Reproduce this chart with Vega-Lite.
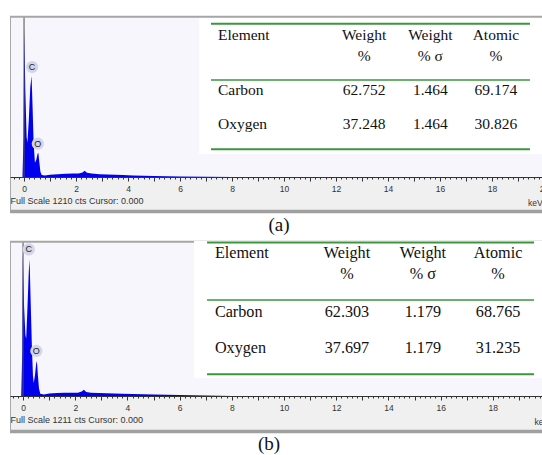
{
  "$schema": "https://vega.github.io/schema/vega-lite/v6.json",
  "padding": {"left": 8, "top": 15, "right": 0, "bottom": 0},
  "spacing": 4,
  "background": "white",
  "config": {
    "view": {"stroke": null, "fill": "#f6f6fc"},
    "axisY": {"disable": true}
  },
  "datasets": {
    "specA": [
      {"keV": -0.06, "cts": 0}, {"keV": -0.02, "cts": 300}, {"keV": 0.01, "cts": 1129}, {"keV": 0.05, "cts": 650},
      {"keV": 0.10, "cts": 300}, {"keV": 0.13, "cts": 260}, {"keV": 0.18, "cts": 420}, {"keV": 0.24, "cts": 680},
      {"keV": 0.29, "cts": 764}, {"keV": 0.33, "cts": 520}, {"keV": 0.37, "cts": 250}, {"keV": 0.42, "cts": 108},
      {"keV": 0.47, "cts": 130}, {"keV": 0.52, "cts": 175}, {"keV": 0.55, "cts": 184}, {"keV": 0.59, "cts": 110},
      {"keV": 0.63, "cts": 40}, {"keV": 0.68, "cts": 15}, {"keV": 0.8, "cts": 12}, {"keV": 1.0, "cts": 18},
      {"keV": 1.3, "cts": 22}, {"keV": 1.6, "cts": 24}, {"keV": 1.9, "cts": 26}, {"keV": 2.1, "cts": 27},
      {"keV": 2.25, "cts": 35}, {"keV": 2.33, "cts": 48}, {"keV": 2.42, "cts": 32}, {"keV": 2.6, "cts": 26},
      {"keV": 2.9, "cts": 22}, {"keV": 3.2, "cts": 20}, {"keV": 3.5, "cts": 18}, {"keV": 3.8, "cts": 15},
      {"keV": 4.2, "cts": 12}, {"keV": 4.6, "cts": 10}, {"keV": 5.0, "cts": 8}, {"keV": 5.5, "cts": 6},
      {"keV": 6.0, "cts": 4}, {"keV": 7.0, "cts": 2}, {"keV": 8.0, "cts": 0}, {"keV": 20.0, "cts": 0}
    ],
    "specB": [
      {"keV": -0.07, "cts": 0}, {"keV": -0.03, "cts": 350}, {"keV": -0.01, "cts": 1127}, {"keV": 0.04, "cts": 700},
      {"keV": 0.09, "cts": 480}, {"keV": 0.12, "cts": 450}, {"keV": 0.17, "cts": 700}, {"keV": 0.22, "cts": 980},
      {"keV": 0.25, "cts": 1075}, {"keV": 0.29, "cts": 760}, {"keV": 0.34, "cts": 380}, {"keV": 0.38, "cts": 160},
      {"keV": 0.41, "cts": 100}, {"keV": 0.46, "cts": 170}, {"keV": 0.50, "cts": 250}, {"keV": 0.53, "cts": 275},
      {"keV": 0.57, "cts": 160}, {"keV": 0.61, "cts": 60}, {"keV": 0.66, "cts": 18}, {"keV": 0.8, "cts": 12},
      {"keV": 1.0, "cts": 20}, {"keV": 1.3, "cts": 24}, {"keV": 1.6, "cts": 26}, {"keV": 1.9, "cts": 25},
      {"keV": 2.1, "cts": 26}, {"keV": 2.25, "cts": 35}, {"keV": 2.33, "cts": 50}, {"keV": 2.42, "cts": 32},
      {"keV": 2.6, "cts": 26}, {"keV": 2.9, "cts": 24}, {"keV": 3.2, "cts": 22}, {"keV": 3.5, "cts": 20},
      {"keV": 3.8, "cts": 18}, {"keV": 4.2, "cts": 15}, {"keV": 4.6, "cts": 14}, {"keV": 5.0, "cts": 12},
      {"keV": 5.5, "cts": 10}, {"keV": 6.0, "cts": 8}, {"keV": 6.5, "cts": 5}, {"keV": 7.0, "cts": 3},
      {"keV": 8.0, "cts": 0}, {"keV": 19.96, "cts": 0}
    ],
    "tableA": [
      {"Element": "Carbon", "weight": 62.752, "sigma": 1.464, "atomic": 69.174},
      {"Element": "Oxygen", "weight": 37.248, "sigma": 1.464, "atomic": 30.826}
    ],
    "tableB": [
      {"Element": "Carbon", "weight": 62.303, "sigma": 1.179, "atomic": 68.765},
      {"Element": "Oxygen", "weight": 37.697, "sigma": 1.179, "atomic": 31.235}
    ],
    "peaksA": [
      {"el": "C", "keV": 0.31, "cts": 832},
      {"el": "O", "keV": 0.53, "cts": 252}
    ],
    "peaksB": [
      {"el": "C", "keV": 0.22, "cts": 1153},
      {"el": "O", "keV": 0.51, "cts": 354}
    ]
  },
  "vconcat": [
    {
      "width": 534,
      "height": 197,
      "title": {"text": "(a)", "orient": "bottom", "anchor": "middle", "font": "Liberation Serif", "fontSize": 19, "fontWeight": "normal", "color": "#111", "offset": 3, "dx": 2},
      "layer": [
        {"data": {"values": [{}]}, "mark": {"type": "rect", "color": "#f0f0f0"},
         "encoding": {"x": {"datum": -0.54}, "x2": {"datum": 20.0}, "y": {"datum": -272}, "y2": {"datum": 0}}},
        {"data": {"values": [{}]}, "mark": {"type": "rect", "color": "#ffffff"},
         "encoding": {"x": {"datum": 6.73}, "x2": {"datum": 20.0}, "y": {"datum": 174}, "y2": {"datum": 1205}}},
        {"data": {"name": "specA"},
         "mark": {"type": "area", "color": "#0000ee", "interpolate": "linear"},
         "encoding": {
           "x": {"field": "keV", "type": "quantitative",
             "scale": {"domain": [-0.54, 20.0], "nice": false, "zero": false},
             "axis": {
               "values": [-0.4,-0.2,0,0.2,0.4,0.6,0.8,1,1.2,1.4,1.6,1.8,2,2.2,2.4,2.6,2.8,3,3.2,3.4,3.6,3.8,4,4.2,4.4,4.6,4.8,5,5.2,5.4,5.6,5.8,6,6.2,6.4,6.6,6.8,7,7.2,7.4,7.6,7.8,8,8.2,8.4,8.6,8.8,9,9.2,9.4,9.6,9.8,10,10.2,10.4,10.6,10.8,11,11.2,11.4,11.6,11.8,12,12.2,12.4,12.6,12.8,13,13.2,13.4,13.6,13.8,14,14.2,14.4,14.6,14.8,15,15.2,15.4,15.6,15.8,16,16.2,16.4,16.6,16.8,17,17.2,17.4,17.6,17.8,18,18.2,18.4,18.6,18.8,19,19.2,19.4,19.6,19.8,20],
               "tickCount": 300,
               "labelExpr": "datum.value % 2 === 0 ? '' + datum.value : ''",
               "labelOverlap": false, "labelBound": false, "labelFlush": false,
               "labelFont": "Liberation Sans", "labelFontSize": 8.5, "labelColor": "#333", "labelPadding": 3,
               "tickColor": "#333",
               "tickSize": {"condition": {"test": "datum.value % 1 === 0", "value": 4}, "value": 2},
               "domainColor": "#333", "grid": false, "offset": -36,
               "title": "Full Scale 1210 cts Cursor: 0.000", "titleAnchor": "start", "titleAlign": "left",
               "titleFont": "Liberation Sans", "titleFontSize": 9, "titleFontWeight": "normal", "titleColor": "#333", "titlePadding": 4,
               "zindex": 2
             }},
           "y": {"field": "cts", "type": "quantitative", "scale": {"domain": [-272, 1218], "nice": false, "zero": false}, "axis": null}
         }},
        {"data": {"values": [{}]}, "mark": {"type": "rule", "color": "#505050", "strokeWidth": 1},
         "encoding": {"x": {"datum": 0}, "y": {"datum": 0}, "y2": {"datum": 1210}}},
        {"data": {"values": [{}]}, "mark": {"type": "rule", "color": "#3c963c", "strokeWidth": 2},
         "encoding": {"x": {"datum": 7.19}, "x2": {"datum": 19.46}, "y": {"datum": 1160}}},
        {"data": {"values": [{}]}, "mark": {"type": "rule", "color": "#3c963c", "strokeWidth": 1.5},
         "encoding": {"x": {"datum": 7.19}, "x2": {"datum": 19.46}, "y": {"datum": 734}}},
        {"data": {"values": [{}]}, "mark": {"type": "rule", "color": "#3c963c", "strokeWidth": 2},
         "encoding": {"x": {"datum": 7.19}, "x2": {"datum": 19.46}, "y": {"datum": 210}}},
        {"data": {"values": [{}]}, "mark": {"type": "rule", "color": "#a6a6a6", "strokeWidth": 2},
         "encoding": {"x": {"datum": -0.54}, "x2": {"datum": 20.0}, "y": {"datum": 1212}}},
        {"data": {"values": [{}]}, "mark": {"type": "rule", "color": "#a0a0a0", "strokeWidth": 3.5},
         "encoding": {"x": {"datum": -0.54}, "x2": {"datum": 20.0}, "y": {"datum": -261}}},
        {"data": {"values": [{}]}, "mark": {"type": "rule", "color": "#a8a8a8", "strokeWidth": 1},
         "encoding": {"x": {"datum": -0.52}, "y": {"datum": -261}, "y2": {"datum": 1212}}},
        {"data": {"name": "peaksA"}, "mark": {"type": "point", "filled": true, "color": "#d4d4ea", "size": 150, "opacity": 1},
         "encoding": {"x": {"field": "keV", "type": "quantitative"}, "y": {"field": "cts", "type": "quantitative"}}},
        {"data": {"name": "peaksA"}, "mark": {"type": "text", "font": "Liberation Sans", "fontSize": 9, "color": "#222", "baseline": "middle", "align": "center"},
         "encoding": {"x": {"field": "keV", "type": "quantitative"}, "y": {"field": "cts", "type": "quantitative"}, "text": {"field": "el"}}},
        {"data": {"values": [{}]}, "mark": {"type": "text", "font": "Liberation Sans", "fontSize": 8.5, "color": "#333", "baseline": "middle", "align": "right"},
         "encoding": {"x": {"datum": 19.95}, "y": {"datum": -197}, "text": {"value": "keV"}}},
        {"data": {"values": [{}]}, "mark": {"type": "text", "align": "left", "baseline": "alphabetic", "font": "Liberation Serif", "fontSize": 15.5, "color": "#111"},
         "encoding": {"x": {"datum": 7.46}, "y": {"datum": 1036}, "text": {"value": "Element"}}},
        {"data": {"values": [{}]}, "mark": {"type": "text", "align": "center", "baseline": "alphabetic", "font": "Liberation Serif", "fontSize": 15.5, "lineHeight": 21, "color": "#111"},
         "encoding": {"x": {"datum": 13.08}, "y": {"datum": 1036}, "text": {"value": ["Weight", "%"]}}},
        {"data": {"values": [{}]}, "mark": {"type": "text", "align": "center", "baseline": "alphabetic", "font": "Liberation Serif", "fontSize": 15.5, "lineHeight": 21, "color": "#111"},
         "encoding": {"x": {"datum": 15.63}, "y": {"datum": 1036}, "text": {"value": ["Weight", "% σ"]}}},
        {"data": {"values": [{}]}, "mark": {"type": "text", "align": "center", "baseline": "alphabetic", "font": "Liberation Serif", "fontSize": 15.5, "lineHeight": 21, "color": "#111"},
         "encoding": {"x": {"datum": 18.15}, "y": {"datum": 1036}, "text": {"value": ["Atomic", "%"]}}},
        {"data": {"name": "tableA"}, "transform": [{"filter": "datum.Element === 'Carbon'"}],
         "mark": {"type": "text", "align": "left", "baseline": "alphabetic", "font": "Liberation Serif", "fontSize": 15.5, "color": "#111"},
         "encoding": {"x": {"datum": 7.46}, "y": {"datum": 620}, "text": {"field": "Element"}}},
        {"data": {"name": "tableA"}, "transform": [{"filter": "datum.Element === 'Carbon'"}],
         "mark": {"type": "text", "align": "center", "baseline": "alphabetic", "font": "Liberation Serif", "fontSize": 15.5, "color": "#111"},
         "encoding": {"x": {"datum": 13.08}, "y": {"datum": 620}, "text": {"field": "weight", "format": ".3f"}}},
        {"data": {"name": "tableA"}, "transform": [{"filter": "datum.Element === 'Carbon'"}],
         "mark": {"type": "text", "align": "center", "baseline": "alphabetic", "font": "Liberation Serif", "fontSize": 15.5, "color": "#111"},
         "encoding": {"x": {"datum": 15.63}, "y": {"datum": 620}, "text": {"field": "sigma", "format": ".3f"}}},
        {"data": {"name": "tableA"}, "transform": [{"filter": "datum.Element === 'Carbon'"}],
         "mark": {"type": "text", "align": "center", "baseline": "alphabetic", "font": "Liberation Serif", "fontSize": 15.5, "color": "#111"},
         "encoding": {"x": {"datum": 18.15}, "y": {"datum": 620}, "text": {"field": "atomic", "format": ".3f"}}},
        {"data": {"name": "tableA"}, "transform": [{"filter": "datum.Element === 'Oxygen'"}],
         "mark": {"type": "text", "align": "left", "baseline": "alphabetic", "font": "Liberation Serif", "fontSize": 15.5, "color": "#111"},
         "encoding": {"x": {"datum": 7.46}, "y": {"datum": 363}, "text": {"field": "Element"}}},
        {"data": {"name": "tableA"}, "transform": [{"filter": "datum.Element === 'Oxygen'"}],
         "mark": {"type": "text", "align": "center", "baseline": "alphabetic", "font": "Liberation Serif", "fontSize": 15.5, "color": "#111"},
         "encoding": {"x": {"datum": 13.08}, "y": {"datum": 363}, "text": {"field": "weight", "format": ".3f"}}},
        {"data": {"name": "tableA"}, "transform": [{"filter": "datum.Element === 'Oxygen'"}],
         "mark": {"type": "text", "align": "center", "baseline": "alphabetic", "font": "Liberation Serif", "fontSize": 15.5, "color": "#111"},
         "encoding": {"x": {"datum": 15.63}, "y": {"datum": 363}, "text": {"field": "sigma", "format": ".3f"}}},
        {"data": {"name": "tableA"}, "transform": [{"filter": "datum.Element === 'Oxygen'"}],
         "mark": {"type": "text", "align": "center", "baseline": "alphabetic", "font": "Liberation Serif", "fontSize": 15.5, "color": "#111"},
         "encoding": {"x": {"datum": 18.15}, "y": {"datum": 363}, "text": {"field": "atomic", "format": ".3f"}}}
      ]
    },
    {
      "width": 534,
      "height": 192,
      "title": {"text": "(b)", "orient": "bottom", "anchor": "middle", "font": "Liberation Serif", "fontSize": 19, "fontWeight": "normal", "color": "#111", "offset": 2, "dx": -8},
      "layer": [
        {"data": {"values": [{}]}, "mark": {"type": "rect", "color": "#f0f0f0"},
         "encoding": {"x": {"datum": -0.5}, "x2": {"datum": 19.96}, "y": {"datum": -291}, "y2": {"datum": 0}}},
        {"data": {"name": "specB"},
         "mark": {"type": "area", "color": "#0000ee", "interpolate": "linear"},
         "encoding": {
           "x": {"field": "keV", "type": "quantitative",
             "scale": {"domain": [-0.5, 19.96], "nice": false, "zero": false},
             "axis": {
               "values": [-0.4,-0.2,0,0.2,0.4,0.6,0.8,1,1.2,1.4,1.6,1.8,2,2.2,2.4,2.6,2.8,3,3.2,3.4,3.6,3.8,4,4.2,4.4,4.6,4.8,5,5.2,5.4,5.6,5.8,6,6.2,6.4,6.6,6.8,7,7.2,7.4,7.6,7.8,8,8.2,8.4,8.6,8.8,9,9.2,9.4,9.6,9.8,10,10.2,10.4,10.6,10.8,11,11.2,11.4,11.6,11.8,12,12.2,12.4,12.6,12.8,13,13.2,13.4,13.6,13.8,14,14.2,14.4,14.6,14.8,15,15.2,15.4,15.6,15.8,16,16.2,16.4,16.6,16.8,17,17.2,17.4,17.6,17.8,18,18.2,18.4,18.6,18.8,19,19.2,19.4,19.6,19.8],
               "tickCount": 300,
               "labelExpr": "datum.value % 2 === 0 ? '' + datum.value : ''",
               "labelOverlap": false, "labelBound": false, "labelFlush": false,
               "labelFont": "Liberation Sans", "labelFontSize": 8.5, "labelColor": "#333", "labelPadding": 3,
               "tickColor": "#333",
               "tickSize": {"condition": {"test": "datum.value % 1 === 0", "value": 4}, "value": 2},
               "domainColor": "#333", "grid": false, "offset": -37,
               "title": "Full Scale 1211 cts Cursor: 0.000", "titleAnchor": "start", "titleAlign": "left",
               "titleFont": "Liberation Sans", "titleFontSize": 9, "titleFontWeight": "normal", "titleColor": "#333", "titlePadding": 4,
               "zindex": 2
             }},
           "y": {"field": "cts", "type": "quantitative", "scale": {"domain": [-291, 1219], "nice": false, "zero": false}, "axis": null}
         }},
        {"data": {"values": [{}]}, "mark": {"type": "rule", "color": "#505050", "strokeWidth": 1},
         "encoding": {"x": {"datum": 0}, "y": {"datum": 0}, "y2": {"datum": 1219}}},
        {"data": {"values": [{}]}, "mark": {"type": "rule", "color": "#a6a6a6", "strokeWidth": 2},
         "encoding": {"x": {"datum": -0.5}, "x2": {"datum": 19.96}, "y": {"datum": 1213}}},
        {"data": {"values": [{}]}, "mark": {"type": "rule", "color": "#a0a0a0", "strokeWidth": 3.5},
         "encoding": {"x": {"datum": -0.5}, "x2": {"datum": 19.96}, "y": {"datum": -279}}},
        {"data": {"values": [{}]}, "mark": {"type": "rule", "color": "#a8a8a8", "strokeWidth": 1},
         "encoding": {"x": {"datum": -0.48}, "y": {"datum": -279}, "y2": {"datum": 1213}}},
        {"data": {"values": [{}]}, "mark": {"type": "rect", "color": "#ffffff"},
         "encoding": {"x": {"datum": 6.55}, "x2": {"datum": 19.96}, "y": {"datum": 142}, "y2": {"datum": 1219}}},
        {"data": {"values": [{}]}, "mark": {"type": "rule", "color": "#3c963c", "strokeWidth": 2},
         "encoding": {"x": {"datum": 7.05}, "x2": {"datum": 19.58}, "y": {"datum": 1207}}},
        {"data": {"values": [{}]}, "mark": {"type": "rule", "color": "#3c963c", "strokeWidth": 1.5},
         "encoding": {"x": {"datum": 7.05}, "x2": {"datum": 19.58}, "y": {"datum": 755}}},
        {"data": {"values": [{}]}, "mark": {"type": "rule", "color": "#3c963c", "strokeWidth": 2},
         "encoding": {"x": {"datum": 7.05}, "x2": {"datum": 19.58}, "y": {"datum": 171}}},
        {"data": {"name": "peaksB"}, "mark": {"type": "point", "filled": true, "color": "#d4d4ea", "size": 150, "opacity": 1},
         "encoding": {"x": {"field": "keV", "type": "quantitative"}, "y": {"field": "cts", "type": "quantitative"}}},
        {"data": {"name": "peaksB"}, "mark": {"type": "text", "font": "Liberation Sans", "fontSize": 9, "color": "#222", "baseline": "middle", "align": "center"},
         "encoding": {"x": {"field": "keV", "type": "quantitative"}, "y": {"field": "cts", "type": "quantitative"}, "text": {"field": "el"}}},
        {"data": {"values": [{}]}, "mark": {"type": "text", "font": "Liberation Sans", "fontSize": 8.5, "color": "#333", "baseline": "middle", "align": "left"},
         "encoding": {"x": {"datum": 19.6}, "y": {"datum": -204}, "text": {"value": "keV"}}},
        {"data": {"values": [{}]}, "mark": {"type": "text", "align": "left", "baseline": "alphabetic", "font": "Liberation Serif", "fontSize": 16.2, "color": "#111"},
         "encoding": {"x": {"datum": 7.35}, "y": {"datum": 1088}, "text": {"value": "Element"}}},
        {"data": {"values": [{}]}, "mark": {"type": "text", "align": "center", "baseline": "alphabetic", "font": "Liberation Serif", "fontSize": 16.2, "lineHeight": 21.6, "color": "#111"},
         "encoding": {"x": {"datum": 12.41}, "y": {"datum": 1088}, "text": {"value": ["Weight", "%"]}}},
        {"data": {"values": [{}]}, "mark": {"type": "text", "align": "center", "baseline": "alphabetic", "font": "Liberation Serif", "fontSize": 16.2, "lineHeight": 21.6, "color": "#111"},
         "encoding": {"x": {"datum": 15.32}, "y": {"datum": 1088}, "text": {"value": ["Weight", "% σ"]}}},
        {"data": {"values": [{}]}, "mark": {"type": "text", "align": "center", "baseline": "alphabetic", "font": "Liberation Serif", "fontSize": 16.2, "lineHeight": 21.6, "color": "#111"},
         "encoding": {"x": {"datum": 18.2}, "y": {"datum": 1088}, "text": {"value": ["Atomic", "%"]}}},
        {"data": {"name": "tableB"}, "transform": [{"filter": "datum.Element === 'Carbon'"}],
         "mark": {"type": "text", "align": "left", "baseline": "alphabetic", "font": "Liberation Serif", "fontSize": 16.2, "color": "#111"},
         "encoding": {"x": {"datum": 7.35}, "y": {"datum": 624}, "text": {"field": "Element"}}},
        {"data": {"name": "tableB"}, "transform": [{"filter": "datum.Element === 'Carbon'"}],
         "mark": {"type": "text", "align": "center", "baseline": "alphabetic", "font": "Liberation Serif", "fontSize": 16.2, "color": "#111"},
         "encoding": {"x": {"datum": 12.41}, "y": {"datum": 624}, "text": {"field": "weight", "format": ".3f"}}},
        {"data": {"name": "tableB"}, "transform": [{"filter": "datum.Element === 'Carbon'"}],
         "mark": {"type": "text", "align": "center", "baseline": "alphabetic", "font": "Liberation Serif", "fontSize": 16.2, "color": "#111"},
         "encoding": {"x": {"datum": 15.32}, "y": {"datum": 624}, "text": {"field": "sigma", "format": ".3f"}}},
        {"data": {"name": "tableB"}, "transform": [{"filter": "datum.Element === 'Carbon'"}],
         "mark": {"type": "text", "align": "center", "baseline": "alphabetic", "font": "Liberation Serif", "fontSize": 16.2, "color": "#111"},
         "encoding": {"x": {"datum": 18.2}, "y": {"datum": 624}, "text": {"field": "atomic", "format": ".3f"}}},
        {"data": {"name": "tableB"}, "transform": [{"filter": "datum.Element === 'Oxygen'"}],
         "mark": {"type": "text", "align": "left", "baseline": "alphabetic", "font": "Liberation Serif", "fontSize": 16.2, "color": "#111"},
         "encoding": {"x": {"datum": 7.35}, "y": {"datum": 336}, "text": {"field": "Element"}}},
        {"data": {"name": "tableB"}, "transform": [{"filter": "datum.Element === 'Oxygen'"}],
         "mark": {"type": "text", "align": "center", "baseline": "alphabetic", "font": "Liberation Serif", "fontSize": 16.2, "color": "#111"},
         "encoding": {"x": {"datum": 12.41}, "y": {"datum": 336}, "text": {"field": "weight", "format": ".3f"}}},
        {"data": {"name": "tableB"}, "transform": [{"filter": "datum.Element === 'Oxygen'"}],
         "mark": {"type": "text", "align": "center", "baseline": "alphabetic", "font": "Liberation Serif", "fontSize": 16.2, "color": "#111"},
         "encoding": {"x": {"datum": 15.32}, "y": {"datum": 336}, "text": {"field": "sigma", "format": ".3f"}}},
        {"data": {"name": "tableB"}, "transform": [{"filter": "datum.Element === 'Oxygen'"}],
         "mark": {"type": "text", "align": "center", "baseline": "alphabetic", "font": "Liberation Serif", "fontSize": 16.2, "color": "#111"},
         "encoding": {"x": {"datum": 18.2}, "y": {"datum": 336}, "text": {"field": "atomic", "format": ".3f"}}}
      ]
    }
  ]
}
